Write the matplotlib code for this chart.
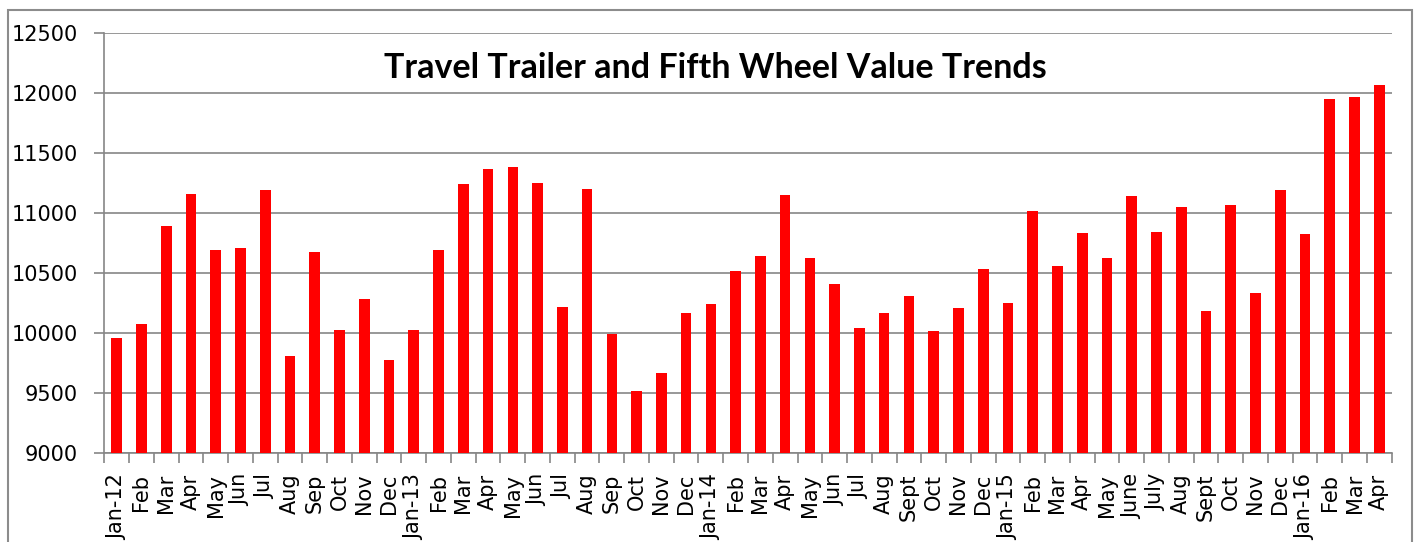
import matplotlib.pyplot as plt
from matplotlib.patches import Rectangle
import numpy as np

months = [
    "Jan-12", "Feb", "Mar", "Apr", "May", "Jun", "Jul", "Aug", "Sep", "Oct", "Nov", "Dec",
    "Jan-13", "Feb", "Mar", "Apr", "May", "Jun", "Jul", "Aug", "Sep", "Oct", "Nov", "Dec",
    "Jan-14", "Feb", "Mar", "Apr", "May", "Jun", "Jul", "Aug", "Sept", "Oct", "Nov", "Dec",
    "Jan-15", "Feb", "Mar", "Apr", "May", "June", "July", "Aug", "Sept", "Oct", "Nov", "Dec",
    "Jan-16", "Feb", "Mar", "Apr",
]
values_2012 = [9955, 10075, 10890, 11155, 10695, 10705, 11195, 9810, 10672, 10022, 10281, 9772]
values_2013 = [10022, 10692, 11242, 11364, 11381, 11247, 10214, 11197, 9992, 9514, 9664, 10164]
values_2014 = [10239, 10514, 10645, 11153, 10625, 10408, 10039, 10169, 10306, 10017, 10211, 10536]
values_2015 = [10250, 11014, 10558, 10831, 10625, 11139, 10842, 11047, 10181, 11069, 10336, 11189]
values_2016 = [10822, 11950, 11967, 12069]

values = values_2012 + values_2013 + values_2014 + values_2015 + values_2016
title = "Travel Trailer and Fifth Wheel Value Trends"

grid_color = "#868686"

fig = plt.figure(figsize=(14.16, 5.42), dpi=100)
ax = fig.add_axes([0.0737, 0.1642, 0.9091, 0.7749])

x = np.arange(len(values))
ax.bar(x, np.array(values) - 9000, bottom=9000, width=0.43, color="#FF0000", zorder=3)

ax.set_ylim(9000, 12500)
ax.set_xlim(-0.5, len(values) - 0.5)
ax.set_yticks(np.arange(9000, 12501, 500))
ax.yaxis.grid(True, color=grid_color, linewidth=1.2, zorder=0)
ax.tick_params(axis="y", labelsize=15, length=7, width=1.2, color=grid_color, pad=12)

ax.set_xticks(x)
ax.set_xticklabels(months, rotation=90, fontsize=15)
ax.set_xticks(np.arange(-0.5, len(values), 1), minor=True)
ax.tick_params(axis="x", which="major", length=0, pad=15)
ax.tick_params(axis="x", which="minor", length=7, width=1.2, color=grid_color)

for side in ["top", "right"]:
    ax.spines[side].set_visible(False)
for side in ["left", "bottom"]:
    ax.spines[side].set_color(grid_color)
    ax.spines[side].set_linewidth(1.2)

fig.text(0.505, 1 - 68 / 542, title, ha="center", va="center",
         fontsize=24.5, fontweight="bold", family="Lato")

# outer chart border
fig.patches.append(Rectangle((8 / 1416, -0.2), 1404 / 1416, 1.2 - 10 / 542,
                             transform=fig.transFigure, fill=False,
                             edgecolor="#8c8c8c", linewidth=1.5))

fig.savefig("out.png", dpi=100)
